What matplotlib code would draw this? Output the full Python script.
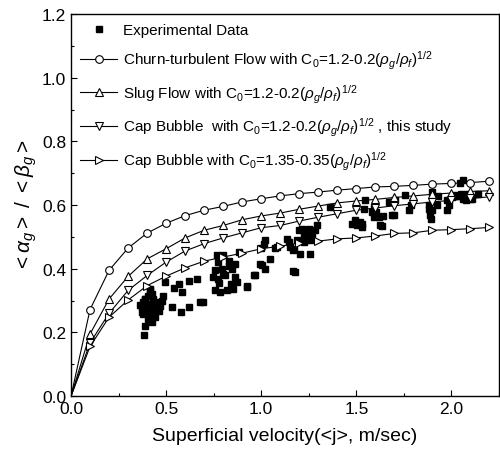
import matplotlib
matplotlib.use("Agg")
import matplotlib.pyplot as plt
from matplotlib.ticker import MultipleLocator

plt.rcParams['font.family'] = ['Liberation Sans', 'DejaVu Sans']
plt.rcParams['mathtext.fontset'] = 'custom'
plt.rcParams['mathtext.rm'] = 'Liberation Sans'
plt.rcParams['mathtext.it'] = 'Liberation Sans:italic'

# model curves
j_model = [0.0, 0.1, 0.2, 0.3, 0.4, 0.5, 0.6, 0.7, 0.8, 0.9, 1.0, 1.1,
           1.2, 1.3, 1.4, 1.5, 1.6, 1.7, 1.8, 1.9, 2.0, 2.1, 2.2]
churn = [0, 0.272, 0.395, 0.465, 0.512, 0.543, 0.567, 0.584, 0.596, 0.610, 0.620, 0.629,
         0.636, 0.641, 0.647, 0.652, 0.657, 0.659, 0.662, 0.666, 0.668, 0.671, 0.675]
slug = [0, 0.195, 0.305, 0.376, 0.431, 0.463, 0.497, 0.521, 0.536, 0.554, 0.566, 0.575,
        0.587, 0.597, 0.607, 0.613, 0.618, 0.624, 0.629, 0.634, 0.638, 0.643, 0.645]
cap_study = [0, 0.167, 0.260, 0.332, 0.379, 0.421, 0.456, 0.479, 0.497, 0.513, 0.529, 0.536,
             0.550, 0.562, 0.573, 0.584, 0.591, 0.598, 0.604, 0.610, 0.615, 0.621, 0.626]
cap_135 = [0, 0.156, 0.248, 0.302, 0.347, 0.377, 0.403, 0.424, 0.437, 0.449, 0.463, 0.471,
           0.481, 0.487, 0.494, 0.497, 0.503, 0.511, 0.513, 0.521, 0.523, 0.526, 0.530]

# experimental data
exp_x = [0.384, 0.389, 0.416, 0.407, 0.433, 0.451, 0.468, 0.460, 0.381, 0.372, 0.381, 0.398,
         0.407, 0.425, 0.416, 0.442, 0.398, 0.425, 0.389, 0.477, 0.433, 0.425, 0.486, 0.446,
         0.416, 0.389, 0.372, 0.363,
         0.495, 0.539, 0.583, 0.618, 0.661, 0.530, 0.577, 0.618, 0.693, 0.568, 0.679,
         0.767, 0.800, 0.881, 0.775, 0.828, 0.863, 0.758, 0.793, 0.846, 0.749, 0.775, 0.811,
         0.863, 0.872, 0.854, 0.819, 0.784, 0.758, 0.925, 0.960, 0.780, 0.840, 0.800, 0.830,
         0.968, 0.925,
         1.012, 1.020, 1.074, 1.135, 1.144, 1.170, 1.150, 1.196, 1.214, 1.232, 1.249, 1.267,
         1.284, 1.293, 1.258, 1.223, 1.190, 1.205, 1.254, 1.167, 0.995, 1.021, 1.044, 1.004,
         1.167, 1.175, 1.226, 1.258, 1.083, 1.000,
         1.363, 1.477, 1.495, 1.504, 1.530, 1.520, 1.530, 1.547, 1.582, 1.591, 1.591, 1.618,
         1.626, 1.635, 1.640, 1.670, 1.680, 1.690, 1.696, 1.705, 1.605, 1.540,
         1.775, 1.790, 1.758, 1.881, 1.898, 1.889, 1.898, 1.925, 1.930, 1.977, 1.986, 1.977,
         2.004, 2.012, 2.030, 2.050, 2.060, 2.047, 2.063, 2.074, 2.083, 2.100, 2.110, 2.140,
         1.890, 1.880]
exp_y = [0.192, 0.306, 0.332, 0.316, 0.306, 0.295, 0.284, 0.269, 0.295, 0.279, 0.258, 0.274,
         0.243, 0.232, 0.253, 0.248, 0.290, 0.284, 0.306, 0.300, 0.264, 0.320, 0.316, 0.277,
         0.337, 0.221, 0.265, 0.285,
         0.358, 0.339, 0.327, 0.363, 0.368, 0.279, 0.264, 0.279, 0.297, 0.353, 0.295,
         0.442, 0.442, 0.453, 0.421, 0.426, 0.416, 0.395, 0.400, 0.400, 0.374, 0.368, 0.379,
         0.374, 0.358, 0.337, 0.332, 0.327, 0.332, 0.342, 0.379, 0.355, 0.352, 0.385, 0.410,
         0.381, 0.347,
         0.479, 0.490, 0.465, 0.494, 0.483, 0.463, 0.470, 0.521, 0.526, 0.510, 0.526, 0.510,
         0.521, 0.536, 0.489, 0.484, 0.490, 0.447, 0.447, 0.458, 0.416, 0.400, 0.431, 0.413,
         0.392, 0.390, 0.505, 0.500, 0.468, 0.466,
         0.594, 0.542, 0.552, 0.536, 0.542, 0.547, 0.530, 0.617, 0.579, 0.594, 0.563, 0.563,
         0.536, 0.533, 0.565, 0.610, 0.610, 0.568, 0.568, 0.615, 0.579, 0.589,
         0.584, 0.600, 0.631, 0.600, 0.584, 0.568, 0.641, 0.599, 0.630, 0.615, 0.600, 0.584,
         0.626, 0.633, 0.630, 0.636, 0.620, 0.668, 0.678, 0.615, 0.636, 0.620, 0.620, 0.636,
         0.557, 0.589]

legend_labels = [
    "Experimental Data",
    r"Churn-turbulent Flow with C$_0$=1.2-0.2($\rho_g$/$\rho_f$)$^{1/2}$",
    r"Slug Flow with C$_0$=1.2-0.2($\rho_g$/$\rho_f$)$^{1/2}$",
    r"Cap Bubble  with C$_0$=1.2-0.2($\rho_g$/$\rho_f$)$^{1/2}$ , this study",
    r"Cap Bubble with C$_0$=1.35-0.35($\rho_g$/$\rho_f$)$^{1/2}$",
]

fig = plt.figure(figsize=(5.0, 4.56), dpi=100)
ax = fig.add_axes([0.142, 0.129, 0.856, 0.838])

ax.plot(exp_x, exp_y, linestyle='none', marker='s', color='black',
        markersize=4.6, label=legend_labels[0], zorder=2)

series = [(churn, 'o'), (slug, '^'), (cap_study, 'v'), (cap_135, '>')]
for i, (ys, mk) in enumerate(series):
    ax.plot(j_model, ys, color='black', linewidth=0.8, marker=mk,
            markersize=5.5, markerfacecolor='white', markeredgecolor='black',
            markeredgewidth=0.8, markevery=list(range(1, len(j_model))),
            label=legend_labels[i + 1], zorder=3)

ax.set_xlim(0, 2.25)
ax.set_ylim(0, 1.2)
ax.xaxis.set_major_locator(MultipleLocator(0.5))
ax.xaxis.set_minor_locator(MultipleLocator(0.25))
ax.yaxis.set_major_locator(MultipleLocator(0.2))
ax.yaxis.set_minor_locator(MultipleLocator(0.1))
ax.xaxis.set_major_formatter(matplotlib.ticker.FormatStrFormatter('%.1f'))
ax.yaxis.set_major_formatter(matplotlib.ticker.FormatStrFormatter('%.1f'))
ax.tick_params(which='both', direction='in', top=False, right=False, labelsize=12.5)
ax.tick_params(which='major', length=4, width=0.8)
ax.tick_params(which='minor', length=2.5, width=0.8)
for s in ax.spines.values():
    s.set_linewidth(1.0)

ax.set_xlabel("Superficial velocity(<j>, m/sec)", fontsize=14, labelpad=8)
ax.set_ylabel(r"$<\alpha_g>$ / $<\beta_g>$", fontsize=15, labelpad=2)

leg = ax.legend(loc='upper left', frameon=False, fontsize=11, handlelength=2.4,
                handletextpad=0.4, labelspacing=0.75, borderaxespad=0.2,
                bbox_to_anchor=(0.0, 1.0))

fig.savefig("out.png", dpi=100)
